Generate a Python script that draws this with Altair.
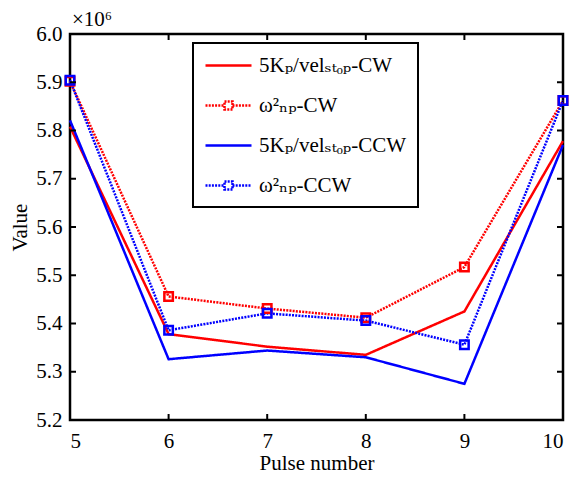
import altair as alt
import pandas as pd

pulse = [5, 6, 7, 8, 9, 10]
kp_cw = [5.808, 5.378, 5.352, 5.335, 5.425, 5.778]
wn_cw = [5.902, 5.456, 5.431, 5.412, 5.517, 5.862]
kp_ccw = [5.821, 5.326, 5.344, 5.330, 5.275, 5.770]
wn_ccw = [5.904, 5.386, 5.421, 5.406, 5.356, 5.862]

names = ["5Kₚ/velₛₜₒₚ-CW", "ω²ₙₚ-CW", "5Kₚ/velₛₜₒₚ-CCW", "ω²ₙₚ-CCW"]
colors = ["#ff0000", "#ff0000", "#0000ff", "#0000ff"]
dashes = [[1, 0], [2, 1.2], [1, 0], [2, 1.2]]
LINE = "M-1,0H3.6"
LINE_SQ = "M-1,0H0.9M1.7,0H3.6M0.9,-0.4H1.7V0.4H0.9Z"
shapes = [LINE, LINE_SQ, LINE, LINE_SQ]
series = [kp_cw, wn_cw, kp_ccw, wn_ccw]

y_ticks = [5.2, 5.3, 5.4, 5.5, 5.6, 5.7, 5.8, 5.9, 6.0]
x_ticks = [5, 6, 7, 8, 9, 10]
exp_label = ["×10⁶"]

rows = []
for name, vals in zip(names, series):
    for p, v in zip(pulse, vals):
        rows.append({"pulse": p, "value": v, "series": name})
df = pd.DataFrame(rows)

FONT = "'Liberation Serif', 'DejaVu Serif', serif"
FS = 21

xs = alt.Scale(domain=[5, 10], nice=False, zero=False)
ys = alt.Scale(domain=[5.2, 6.0], nice=False, zero=False)
cs = alt.Scale(domain=names, range=colors)
ds = alt.Scale(domain=names, range=dashes)
ss = alt.Scale(domain=names, range=shapes)

legend = alt.Legend(
    title=None, orient="none", legendX=123, legendY=9,
    strokeColor="black", fillColor="white", padding=11,
    labelFont=FONT, labelFontSize=FS, labelColor="black", labelLimit=400,
    labelOffset=32, rowPadding=18, symbolSize=400, symbolStrokeWidth=2.5,
    symbolOpacity=1, symbolFillColor="transparent",
)

axis_style = dict(labelFont=FONT, labelFontSize=FS, labelColor="black",
                  titleFont=FONT, titleFontSize=FS, titleFontWeight="normal",
                  titleColor="black", domain=False, ticks=False, grid=False)
axX = alt.Axis(values=x_ticks, format="d", labelPadding=10, titlePadding=1, **axis_style)
axY = alt.Axis(values=y_ticks, format=".1f", labelPadding=8, titlePadding=5, **axis_style)


def fx(field):
    return alt.X(field, scale=xs, title="Pulse number", axis=axX)


def fy(field):
    return alt.Y(field, scale=ys, title="Value", axis=axY)


def dx(v):
    return alt.X(datum=v, scale=xs, title="Pulse number", axis=axX)


def dy(v):
    return alt.Y(datum=v, scale=ys, title="Value", axis=axY)


base = alt.Chart(df)
lines = base.mark_line(strokeWidth=2.5).encode(
    x=fx("pulse:Q"), y=fy("value:Q"),
    color=alt.Color("series:N", scale=cs, legend=None, sort=names),
    strokeDash=alt.StrokeDash("series:N", scale=ds, legend=None, sort=names),
    detail="series:N",
)
points = base.transform_filter(
    "indexof(datum.series, 'ω') >= 0"
).mark_point(shape="square", filled=False, size=72, strokeWidth=2.5, opacity=1).encode(
    x=fx("pulse:Q"), y=fy("value:Q"),
    color=alt.Color("series:N", scale=cs, legend=None, sort=names),
)
leg = base.mark_point(filled=False, opacity=0, size=1).encode(
    x=fx("pulse:Q"), y=fy("value:Q"),
    color=alt.Color("series:N", scale=cs, legend=legend, sort=names),
    shape=alt.Shape("series:N", scale=ss, legend=legend, sort=names),
    strokeDash=alt.StrokeDash("series:N", scale=ds, legend=legend, sort=names),
)

yt = pd.DataFrame({"v": y_ticks})
xt = pd.DataFrame({"v": x_ticks})
tl = alt.Chart(yt).mark_rule(color="black", strokeWidth=2, x2Offset=6).encode(
    y=fy("v:Q"), x=dx(5), x2=alt.X2(datum=5))
tr = alt.Chart(yt).mark_rule(color="black", strokeWidth=2, x2Offset=-6).encode(
    y=fy("v:Q"), x=dx(10), x2=alt.X2(datum=10))
tb = alt.Chart(xt).mark_rule(color="black", strokeWidth=2, y2Offset=-6).encode(
    x=fx("v:Q"), y=dy(5.2), y2=alt.Y2(datum=5.2))
tt = alt.Chart(xt).mark_rule(color="black", strokeWidth=2, y2Offset=6).encode(
    x=fx("v:Q"), y=dy(6.0), y2=alt.Y2(datum=6.0))

expo = alt.Chart(pd.DataFrame({"t": exp_label})).mark_text(
    align="left", baseline="alphabetic", dx=2, dy=-8,
    font=FONT, fontSize=FS, color="black"
).encode(x=dx(5), y=dy(6.0), text="t:N")

chart = alt.layer(lines, points, leg, tl, tr, tb, tt, expo).resolve_legend(
    color="independent", strokeDash="independent", shape="independent"
).properties(
    width=493, height=386,
    autosize=alt.AutoSizeParams(type="none"),
    padding={"left": 62, "top": 26, "right": 11, "bottom": 55},
).configure_view(stroke="black", strokeWidth=2.5).configure_legend(
    strokeWidth=2
).configure_axis(labelFont=FONT, titleFont=FONT).configure_text(font=FONT)

chart.save("out.html", embed_options={"renderer": "svg", "actions": False})
